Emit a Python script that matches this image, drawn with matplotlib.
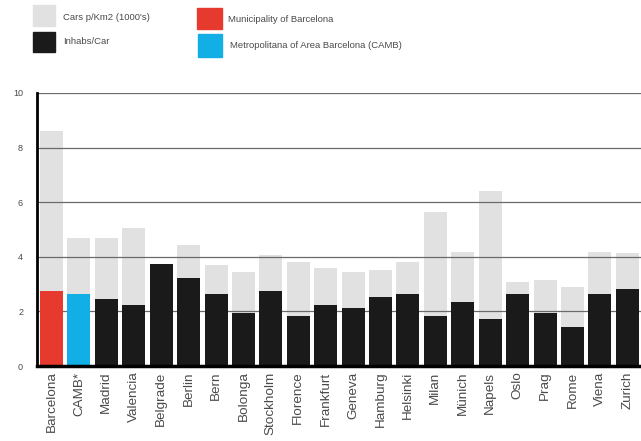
import matplotlib
matplotlib.use("Agg")
import matplotlib.pyplot as plt
from matplotlib.patches import Rectangle

cities = ["Barcelona", "CAMB*", "Madrid", "Valencia", "Belgrade", "Berlin", "Bern",
          "Bolonga", "Stockholm", "Florence", "Frankfurt", "Geneva", "Hamburg",
          "Helsinki", "Milan", "Münich", "Napels", "Oslo", "Prag", "Rome", "Viena", "Zurich"]
cars_km2 = [8.6, 4.7, 4.7, 5.05, 3.6, 4.45, 3.7, 3.45, 4.07, 3.8, 3.58, 3.45, 3.5,
            3.8, 5.65, 4.18, 6.4, 3.08, 3.15, 2.9, 4.18, 4.15]
inhabs_car = [2.74, 2.63, 2.45, 2.23, 3.75, 3.22, 2.63, 1.93, 2.74, 1.83, 2.23, 2.12,
              2.53, 2.63, 1.83, 2.34, 1.72, 2.63, 1.93, 1.43, 2.63, 2.82]
yticks = [0, 2, 4, 6, 8, 10]

RED = "#e63a2e"
BLUE = "#12aee6"
GRAY = "#e1e1e1"
BLACK = "#1a1a1a"
TXT = "#4a4a4a"

plt.rcParams["font.family"] = ["Liberation Sans", "DejaVu Sans"]

fig = plt.figure(figsize=(6.41, 4.41), dpi=100)
ax = fig.add_axes([37/641, 1-366/441, 1-37/641, (366-93)/441])

x = list(range(len(cities)))
w = 0.84
ax.bar(x, cars_km2, width=w, color=GRAY, zorder=1)
colors = [RED, BLUE] + [BLACK] * (len(cities) - 2)
ax.bar(x, inhabs_car, width=w, color=colors, zorder=3)

for v in yticks[1:]:
    ax.axhline(v, color="#6a6a6a", lw=0.9, zorder=2)

ax.set_xlim(-0.53, 21.5)
ax.set_ylim(0, 10)
ax.set_yticks(yticks)
ax.set_yticklabels([str(t) for t in yticks], fontsize=6.5, color=TXT)
ax.set_xticks(x)
ax.set_xticklabels(cities, rotation=90, fontsize=9.7, color=TXT)
ax.tick_params(axis="both", length=0, pad=4)
ax.tick_params(axis="y", pad=10)
for s in ["top", "right"]:
    ax.spines[s].set_visible(False)
ax.spines["left"].set_linewidth(2)
ax.spines["bottom"].set_linewidth(2.5)
ax.spines["left"].set_color("black")
ax.spines["bottom"].set_color("black")
ax.spines["left"].set_zorder(4)
ax.spines["bottom"].set_zorder(4)

# legend
def patch(x0, y0, x1, y1, c):
    fig.patches.append(Rectangle((x0/641, 1-y1/441), (x1-x0)/641, (y1-y0)/441,
                                 transform=fig.transFigure, color=c, figure=fig))

patch(33, 5, 55, 26, GRAY)
patch(33, 32, 55, 52, BLACK)
patch(197, 8, 222, 29, RED)
patch(198, 34, 222, 57, BLUE)
fs = 6.8
fig.text(63/641, 1-18/441, "Cars p/Km2 (1000's)", fontsize=fs, color=TXT, va="center")
fig.text(63/641, 1-42/441, "Inhabs/Car", fontsize=fs, color=TXT, va="center")
fig.text(228/641, 1-20/441, "Municipality of Barcelona", fontsize=fs, color=TXT, va="center")
fig.text(230/641, 1-45/441, "Metropolitana of Area Barcelona (CAMB)", fontsize=fs, color=TXT, va="center")

fig.savefig("out.png", dpi=100)
